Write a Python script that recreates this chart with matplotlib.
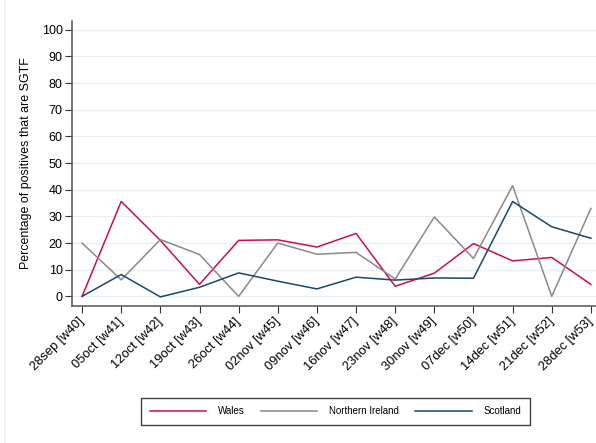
import numpy as np
import matplotlib
matplotlib.use('Agg')
import matplotlib.pyplot as plt
from matplotlib.lines import Line2D

plt.rc('font', family=['Liberation Sans', 'DejaVu Sans'])

weeks = ['28sep [w40]', '05oct [w41]', '12oct [w42]', '19oct [w43]', '26oct [w44]',
         '02nov [w45]', '09nov [w46]', '16nov [w47]', '23nov [w48]', '30nov [w49]',
         '07dec [w50]', '14dec [w51]', '21dec [w52]', '28dec [w53]']
wales = [0, 35.6, 21.0, 4.5, 21.0, 21.2, 18.5, 23.6, 3.8, 8.7, 19.8, 13.3, 14.6, 4.5]
nireland = [20.0, 6.2, 21.3, 15.7, 0, 20.0, 15.8, 16.5, 6.5, 29.8, 14.2, 41.5, 0, 33.0]
scotland = [0, 8.2, -0.2, 3.4, 8.8, 5.7, 2.8, 7.2, 6.1, 6.9, 6.8, 35.6, 26.1, 21.8]

c_wales = '#cc1047'
c_ni = '#8a8a8a'
c_scot = '#1a476f'

fig = plt.figure(figsize=(5.96, 4.43), dpi=100)
W, H = 596., 443.
ax = fig.add_axes([72.3/W, 1-305.7/H, (596-72.3)/W, (305.7-20.7)/H])

x = np.arange(len(weeks))
ax.plot(x, wales, color=c_wales, lw=1.1, label='Wales')
ax.plot(x, nireland, color=c_ni, lw=1.1, label='Northern Ireland')
ax.plot(x, scotland, color=c_scot, lw=1.1, label='Scotland')

ax.set_xlim(-0.25, 13.13)
ax.set_ylim(-3.5, 103.4)
ax.set_yticks(np.arange(0, 101, 10))
ax.set_xticks(x)
ax.set_xticklabels(weeks, rotation=45, ha='right', va='center', rotation_mode='anchor', fontsize=9.3)
ax.tick_params(axis='y', labelsize=9, length=5, width=0.8, pad=2, color='#333333')
ax.tick_params(axis='x', length=5, width=0.8, pad=5, color='#333333')
ax.grid(axis='y', color='#e6eff2', lw=0.9)
ax.set_axisbelow(True)
for s in ['top', 'right']:
    ax.spines[s].set_visible(False)
for s in ['left', 'bottom']:
    ax.spines[s].set_color('#555555')
    ax.spines[s].set_linewidth(1.1)
ax.set_ylabel('Percentage of positives that are SGTF', fontsize=8.9, labelpad=7)

leg = fig.legend(loc='lower left', bbox_to_anchor=(141/W, 1-425/H, (530-141)/W, 29/H),
                 mode='expand', ncol=3, fontsize=7, handlelength=5.8, handletextpad=1.2,
                 frameon=True, fancybox=False, borderaxespad=0, borderpad=0.9)
leg.get_frame().set_edgecolor('#111111')
leg.get_frame().set_linewidth(1.0)

fig.add_artist(Line2D([5/W, 5/W], [0, 1], color='#eef2f4', lw=1.2))

fig.savefig('out.png', dpi=100)
